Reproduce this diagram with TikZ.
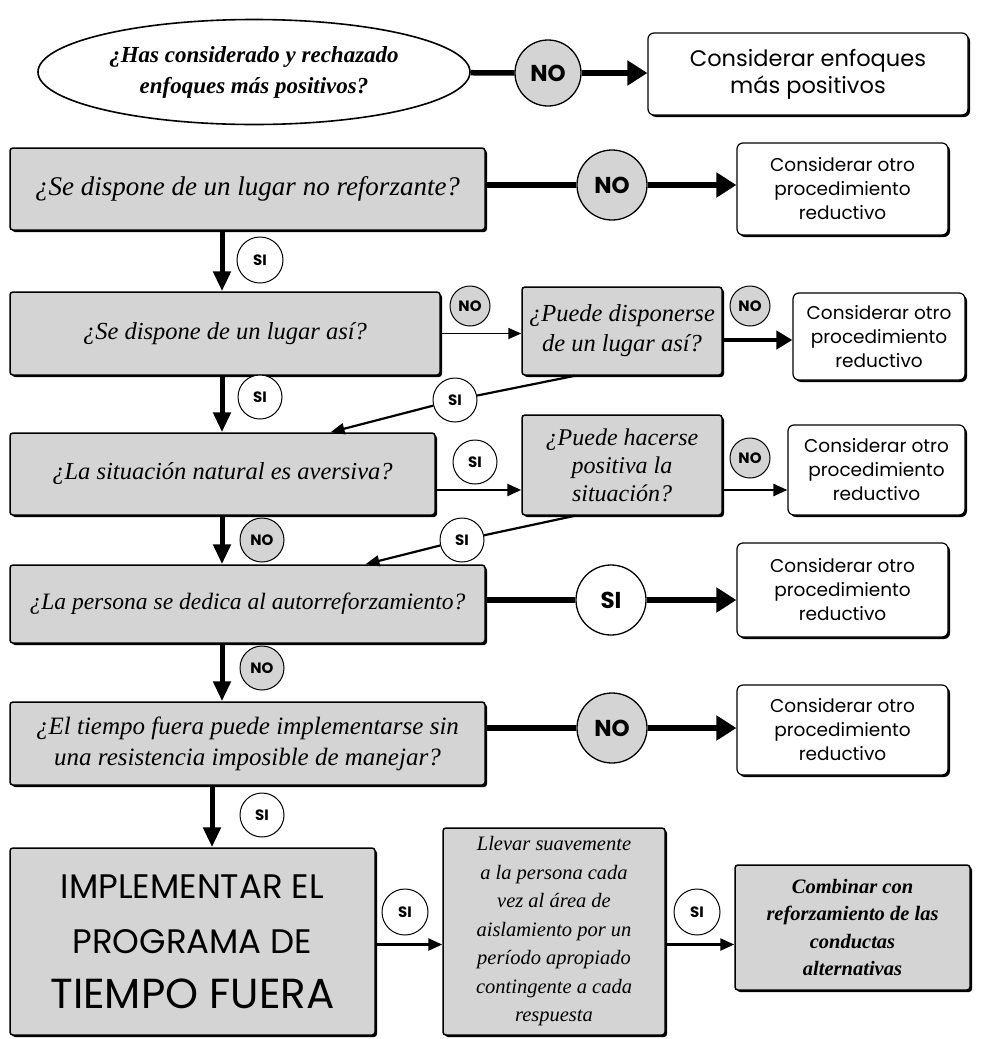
\documentclass[tikz,border=0pt]{standalone}
\usepackage{fontspec}
\setmainfont{Liberation Serif}
\setsansfont{Poppins}
\usetikzlibrary{shapes.geometric,arrows.meta,shadows}
\definecolor{boxgray}{RGB}{212,212,212}
\begin{document}
\begin{tikzpicture}[x=1pt,y=-1pt,
  shad/.style={drop shadow={shadow xshift=2pt,shadow yshift=-2pt,fill=black,opacity=1}},
  qbox/.style={draw,line width=1.5pt,fill=boxgray,rounded corners=3pt,shad,align=center,inner sep=2pt,
    font=\itshape\fontsize{24.5}{30}\selectfont},
  abox/.style={draw,line width=1.2pt,fill=white,rounded corners=6pt,shad,align=center,inner sep=2pt,
    font=\sffamily\fontsize{18.5}{24}\selectfont},
  bigc/.style={circle,draw,line width=1.3pt,minimum size=70pt,inner sep=0pt,
    font=\sffamily\bfseries\fontsize{23}{23}\selectfont},
  smc/.style={circle,draw,line width=1pt,minimum size=44pt,inner sep=0pt,
    font=\sffamily\bfseries\fontsize{15}{15}\selectfont},
  gf/.style={fill=boxgray},
  wf/.style={fill=white},
  heavy/.style={line width=5.5pt},
  heavyarr/.style={line width=5.5pt,-{Triangle[length=20pt,width=24pt]}},
  varr/.style={line width=5pt,-{Triangle[length=20pt,width=17pt]}},
  medarr/.style={line width=2.5pt,-{Triangle[length=14pt,width=12pt]}},
  thinarr/.style={line width=1.8pt,-{Triangle[length=13pt,width=11pt]}},
  diag/.style={line width=2.2pt},
  diagarr/.style={line width=2.2pt,-{Triangle[length=14pt,width=11pt]}}
]
\useasboundingbox (0,0) rectangle (985,1039);
\fill[white] (0,0) rectangle (985,1039);

% row 1
\node[ellipse,draw,line width=1.6pt,fill=white,minimum width=432pt,minimum height=105pt,align=center,inner sep=0pt,
  font=\bfseries\itshape\fontsize{23}{31}\selectfont] (e) at (254,72) {¿Has considerado y rechazado\\enfoques más positivos?};
\node[bigc,gf,minimum size=66pt] (no1) at (548,73) {NO};
\node[abox,minimum width=320pt,minimum height=82pt,font=\sffamily\fontsize{22.5}{27}\selectfont] (a1) at (808,74) {Considerar enfoques\\más positivos};

% row 2
\node[qbox,minimum width=475pt,minimum height=82pt,font=\itshape\fontsize{27}{30}\selectfont] (q2) at (247.5,189) {¿Se dispone de un lugar no reforzante?};
\node[bigc,gf] (no2) at (612,185) {NO};
\node[abox,minimum width=211pt,minimum height=92pt] (a2) at (842.5,189) {Considerar otro\\procedimiento\\reductivo};
\node[smc,wf,minimum size=46pt] (si2) at (260,260) {SI};

% row 3
\node[qbox,minimum width=430pt,minimum height=83pt] (q3) at (225,333.5) {¿Se dispone de un lugar así?};
\node[smc,gf,minimum size=40pt] (no3) at (470,306) {NO};
\node[qbox,minimum width=200pt,minimum height=88pt] (p3) at (622,331) {¿Puede disponerse\\de un lugar así?};
\node[smc,gf,minimum size=40pt] (no3b) at (750,306) {NO};
\node[abox,minimum width=172pt,minimum height=87pt] (a3) at (879,336.5) {Considerar otro\\procedimiento\\reductivo};
\node[smc,wf] (si3) at (260,397) {SI};
\node[smc,wf] (si3b) at (455,400) {SI};

% row 4
\node[qbox,minimum width=425pt,minimum height=82pt] (q4) at (222.5,474) {¿La situación natural es aversiva?};
\node[smc,wf] (si4) at (475,462) {SI};
\node[qbox,minimum width=200pt,minimum height=100pt,font=\itshape\fontsize{24}{28}\selectfont] (p4) at (622,465) {¿Puede hacerse\\positiva la\\situación?};
\node[smc,gf,minimum size=40pt] (no4b) at (750,458) {NO};
\node[abox,minimum width=177pt,minimum height=90pt] (a4) at (876.5,470) {Considerar otro\\procedimiento\\reductivo};
\node[smc,gf] (no4) at (262,540) {NO};
\node[smc,wf] (si4b) at (462,540) {SI};

% row 5
\node[qbox,minimum width=475pt,minimum height=78pt,font=\itshape\fontsize{23.5}{30}\selectfont] (q5) at (247.5,604) {¿La persona se dedica al autorreforzamiento?};
\node[bigc,wf] (si5) at (611,600) {SI};
\node[abox,minimum width=211pt,minimum height=94pt] (a5) at (842.5,590) {Considerar otro\\procedimiento\\reductivo};
\node[smc,gf] (no5) at (262,668) {NO};

% row 6
\node[qbox,minimum width=475pt,minimum height=83pt,font=\itshape\fontsize{25}{31}\selectfont] (q6) at (247.5,743.5) {¿El tiempo fuera puede implementarse sin\\una resistencia imposible de manejar?};
\node[bigc,gf] (no6) at (612,728) {NO};
\node[abox,minimum width=211pt,minimum height=90pt] (a6) at (842.5,730) {Considerar otro\\procedimiento\\reductivo};
\node[smc,wf] (si6) at (262,815) {SI};

% row 7
\node[qbox,minimum width=365pt,minimum height=187pt,font=\sffamily\fontsize{34}{55}\selectfont] (q7) at (192.5,941.5)
  {IMPLEMENTAR EL\\PROGRAMA DE\\{\fontsize{42}{55}\selectfont TIEMPO FUERA}};
\node[smc,wf,minimum size=46pt] (si7) at (405,912) {SI};
\node[qbox,minimum width=222pt,minimum height=207pt,font=\itshape\fontsize{20.5}{28.5}\selectfont] (p7) at (554,931.5)
  {Llevar suavemente\\a la persona cada\\vez al área de\\aislamiento por un\\período apropiado\\contingente a cada\\respuesta};
\node[smc,wf,minimum size=46pt] (si7b) at (697,912) {SI};
\node[qbox,minimum width=235pt,minimum height=125pt,font=\bfseries\itshape\fontsize{20.5}{27.5}\selectfont] (c7) at (852.5,927.5)
  {Combinar con\\reforzamiento de las\\conductas\\alternativas};

\coordinate (v1) at (222,0);
\coordinate (v2) at (212,0);

% connectors
\draw[heavy] (e) -- (no1);
\draw[heavyarr] (no1) -- (no1 -| a1.west);

\draw[heavy] (no2 -| q2.east) -- (no2);
\draw[heavyarr] (no2) -- (no2 -| a2.west);
\draw[varr] (v1 |- q2.south) -- (v1 |- q3.north);

\draw[thinarr] (q3.east) -- (q3.east -| p3.west);
\draw[heavyarr,line width=4.5pt,-{Triangle[length=16pt,width=18pt]}] ([yshift=-9pt]p3.east) -- ([yshift=-9pt]p3.east -| a3.west);
\draw[varr] (v1 |- q3.south) -- (v1 |- q4.north);
\draw[diag] ([xshift=-47pt]p3.south) -- (si3b);
\draw[diagarr] (si3b) -- ([xshift=108pt]q4.north);

\draw[medarr] ([yshift=-16pt]q4.east) -- ([yshift=-16pt]q4.east -| p4.west);
\draw[medarr] ([yshift=-25pt]p4.east) -- ([yshift=-25pt]p4.east -| a4.west);
\draw[varr] (v1 |- q4.south) -- (v1 |- q5.north);
\draw[diag] ([xshift=-47pt]p4.south) -- (si4b);
\draw[diagarr] (si4b) -- ([xshift=118pt]q5.north);

\draw[heavy] (si5 -| q5.east) -- (si5);
\draw[heavyarr] (si5) -- (si5 -| a5.west);
\draw[varr] (v1 |- q5.south) -- (v1 |- q6.north);

\draw[heavy] (no6 -| q6.east) -- (no6);
\draw[heavyarr] (no6) -- (no6 -| a6.west);
\draw[varr] (v2 |- q6.south) -- (v2 |- q7.north);

\draw[medarr] ([yshift=-3pt]q7.east) -- ([yshift=-3pt]q7.east -| p7.west);
\draw[medarr] ([yshift=-3pt]q7.east -| p7.east) -- ([yshift=-3pt]q7.east -| c7.west);
\end{tikzpicture}
\end{document}
